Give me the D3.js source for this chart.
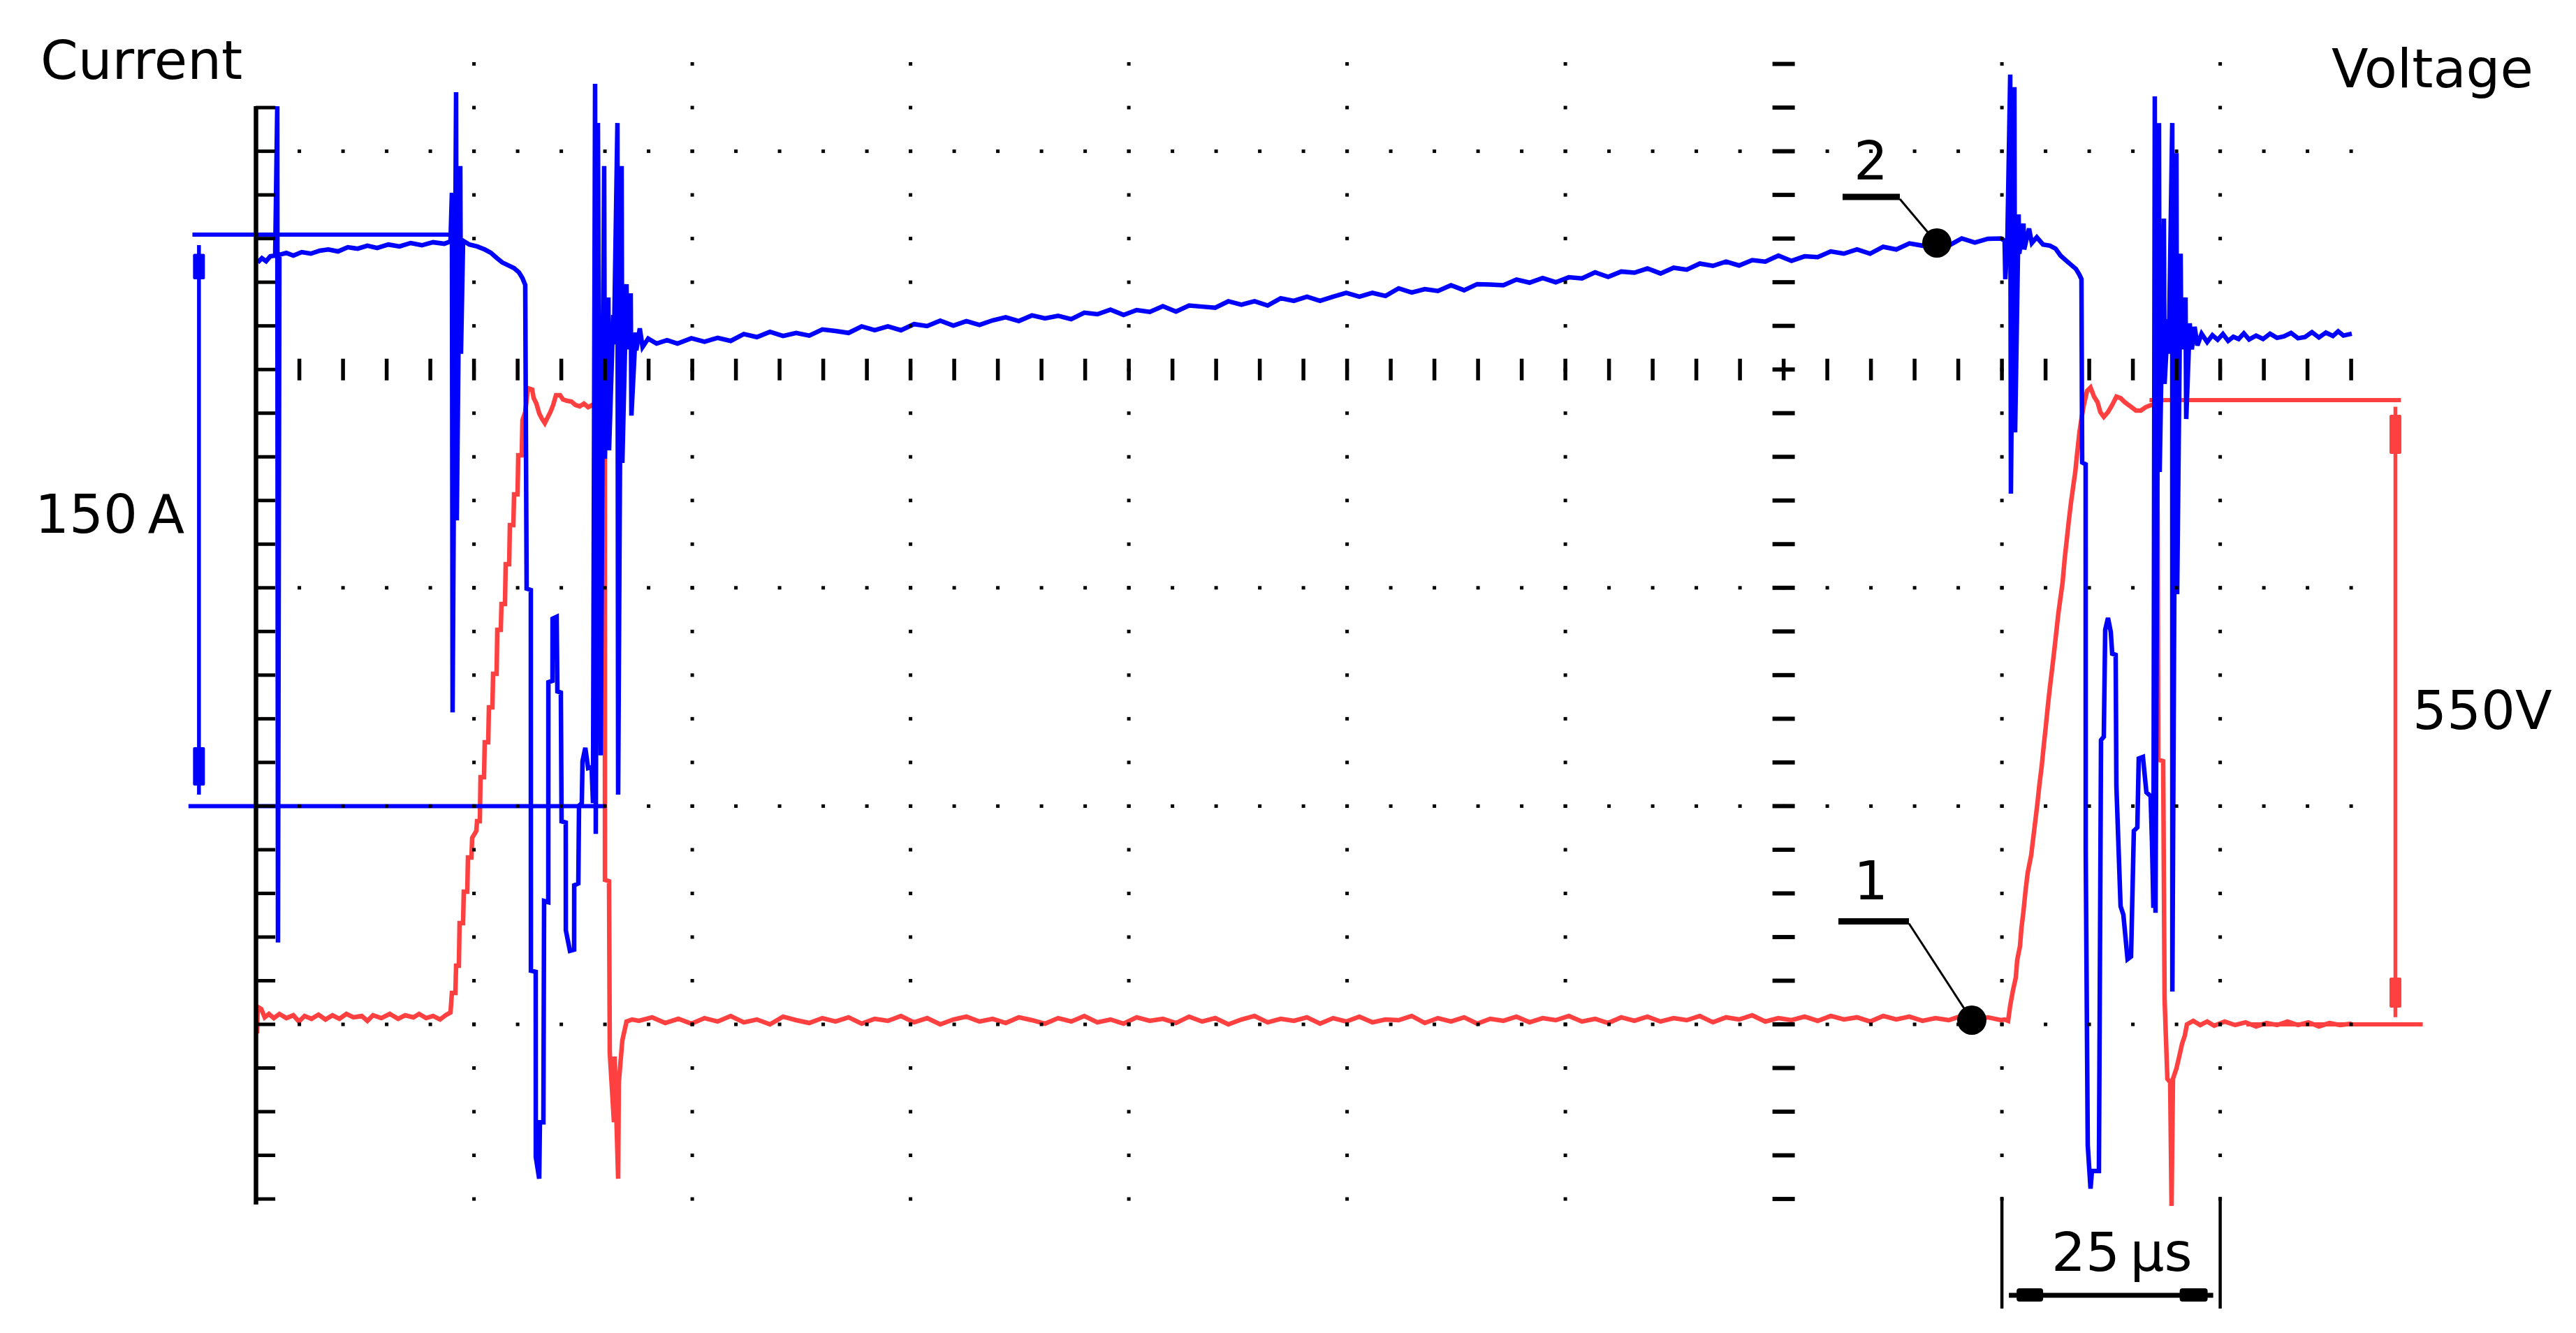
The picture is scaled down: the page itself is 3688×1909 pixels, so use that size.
<!DOCTYPE html>
<html><head><meta charset="utf-8">
<script src="https://cdn.jsdelivr.net/npm/d3@7"></script>
<style>
html,body{margin:0;padding:0;background:#fff;}
svg{display:block;}
text{font-family:"DejaVu Sans", Verdana, sans-serif; fill:#000; font-size:77px; word-spacing:-10px;}
</style></head><body>
<svg id="chart" width="3688" height="1909"></svg>
<script>
// ---------------- DATA (time in µs, current in A, voltage in V) ----------------
const currentStart = [[0.23,142.7],[0.71,143.8],[1.19,143.0],[1.67,144.3],[2.23,144.5],[2.47,183.7],[2.55,-35.8],[2.71,144.7],[3.51,145.2],[4.31,144.5],[5.27,145.4],[6.31,145.0],[7.35,145.8],[8.31,146.1],[9.43,145.6],[10.55,146.7],[11.67,146.3],[12.79,147.1],[13.91,146.5],[15.19,147.4],[16.47,146.9],[17.75,147.8],[19.03,147.2],[20.31,148.0],[21.59,147.6],[22.31,148.2]];
const currentTurnOff1 = [[22.47,161.0],[22.55,24.6],[22.95,187.4],[23.03,75.0],[23.43,168.0],[23.51,118.7],[23.75,148.4],[24.47,147.4],[25.35,146.9],[26.23,146.1],[26.95,145.2],[27.59,143.9],[28.23,142.7],[28.95,141.9],[29.59,141.2],[30.15,140.1],[30.55,138.6],[30.87,136.8],[31.03,57.1],[31.51,56.7],[31.52,-43.2],[32.07,-43.5],[32.08,-92.1],[32.47,-97.8],[32.55,-83.0],[32.95,-83.0],[33.03,-24.9],[33.51,-25.2],[33.52,32.5],[33.99,32.9],[34.0,49.2],[34.47,49.7],[34.55,30.1],[34.95,29.8],[35.03,-4.0],[35.51,-4.3],[35.52,-32.6],[35.99,-38.0],[36.47,-37.7],[36.48,-20.8],[36.95,-20.3],[37.03,0.1],[37.35,0.8],[37.43,11.8],[37.75,15.3],[38.07,10.0],[38.47,10.3],[38.63,0.8],[38.87,189.6],[38.95,-7.3],[39.19,179.3],[39.51,13.3],[39.91,168.0],[39.99,91.2],[40.39,133.5],[40.47,93.4],[40.95,128.9],[41.03,121.2],[41.43,179.3],[41.51,3.0],[41.91,168.0],[41.99,90.1],[42.47,137.0],[42.55,119.9],[42.95,134.6],[43.03,102.5],[43.51,124.3],[43.59,119.6],[43.99,125.4],[44.31,120.5],[44.95,122.7],[45.91,121.4],[47.11,122.3],[48.31,121.4]];
const currentRamp = [[49.9,122.8],[51.4,121.9],[52.9,122.9],[54.4,122.1],[55.9,123.9],[57.4,123.1],[58.9,124.5],[60.4,123.4],[61.9,124.2],[63.4,123.5],[64.9,125.1],[66.4,124.7],[67.9,124.2],[69.4,125.9],[70.9,124.9],[72.4,125.9],[73.9,124.9],[75.4,126.5],[76.9,126.0],[78.4,127.4],[79.9,126.1],[81.4,127.3],[82.9,126.3],[84.4,127.5],[85.9,128.3],[87.4,127.3],[88.9,128.8],[90.4,128.0],[91.9,128.7],[93.4,127.8],[94.9,129.5],[96.4,129.1],[97.9,130.3],[99.4,128.9],[100.9,130.2],[102.4,129.7],[103.9,131.2],[105.4,129.8],[106.9,131.4],[108.4,131.1],[109.9,130.8],[111.4,132.5],[112.9,131.6],[114.4,132.5],[115.9,131.4],[117.4,133.3],[118.9,132.6],[120.4,133.7],[121.9,132.6],[123.4,133.7],[124.9,134.7],[126.4,133.7],[127.9,134.7],[129.4,133.9],[130.9,135.9],[132.4,134.8],[133.9,135.7],[135.4,135.2],[136.9,136.7],[138.4,135.4],[139.9,137.0],[141.4,136.9],[142.9,136.7],[144.4,138.2],[145.9,137.4],[147.4,138.6],[148.9,137.5],[150.4,138.8],[151.9,138.5],[153.4,140.1],[154.9,138.9],[156.4,140.3],[157.9,140.0],[159.4,141.1],[160.9,139.8],[162.4,141.3],[163.9,140.8],[165.4,142.4],[166.9,141.8],[168.4,142.9],[169.9,141.9],[171.4,143.3],[172.9,142.9],[174.4,144.5],[175.9,143.1],[177.4,144.3],[178.9,144.1],[180.4,145.6],[181.9,145.0],[183.4,146.1],[184.9,145.0],[186.4,146.8],[187.9,146.1],[189.4,147.7],[190.9,147.1],[192.4,147.8],[193.9,147.1],[195.4,149.0],[196.9,147.9],[198.4,148.9],[199.9,149.0]];
const currentTurnOff2 = [[200.31,148.4],[200.39,138.3],[200.63,149.3],[200.95,192.0],[201.03,82.0],[201.43,188.7],[201.51,98.1],[201.91,155.3],[201.99,145.0],[202.47,152.9],[202.55,146.1],[203.11,151.6],[203.43,147.8],[203.99,149.3],[204.71,147.4],[205.51,147.1],[206.15,146.3],[206.71,144.5],[207.35,143.2],[207.91,142.1],[208.47,141.0],[208.87,139.5],[209.11,138.3],[209.19,90.2],[209.59,89.7],[209.6,-11.7],[209.83,-89.0],[210.15,-100.4],[210.31,-95.8],[211.11,-95.8],[211.35,17.3],[211.67,18.2],[211.83,46.3],[212.15,49.4],[212.47,45.7],[212.63,40.0],[213.03,39.7],[213.11,5.4],[213.59,-26.3],[213.91,-28.5],[214.39,-40.2],[214.79,-39.5],[215.11,-6.5],[215.51,-5.6],[215.67,12.5],[216.15,12.9],[216.55,3.6],[217.03,2.6],[217.19,-9.6],[217.35,-26.7],[217.51,186.3],[217.59,-28.0],[217.99,179.3],[218.07,87.7],[218.55,154.2],[218.63,110.8],[219.03,127.8],[219.11,118.7],[219.51,179.3],[219.52,-48.7],[219.99,171.4],[220.07,55.6],[220.47,145.0],[220.55,119.9],[221.03,133.5],[221.11,101.6],[221.51,126.7],[221.75,119.9],[222.07,125.8],[222.39,120.9],[222.87,124.0],[223.51,121.8],[224.11,123.6],[224.71,122.4],[225.31,123.9],[225.91,122.1],[226.51,123.2],[227.11,122.6],[227.71,124.1],[228.31,122.5],[229.11,123.5],[229.91,122.6],[230.71,124.0],[231.51,122.9],[232.31,123.3],[233.11,124.2],[233.91,122.8],[234.71,123.1],[235.51,124.4],[236.31,123.0],[237.11,124.3],[237.91,123.4],[238.51,124.6],[239.11,123.5],[240.07,124.0]];

const voltageStart = [[0.15,-8.0],[0.23,15.4],[0.63,13.5],[1.03,6.2],[1.51,9.2],[2.07,5.5],[2.71,9.2],[3.51,5.5],[4.31,8.0],[4.95,2.5],[5.59,7.4],[6.39,4.9],[7.19,8.6],[7.99,4.3],[8.79,8.0],[9.59,4.9],[10.39,9.2],[11.19,6.2],[12.15,7.4],[12.79,3.1],[13.43,8.0],[14.39,5.5],[15.35,9.2],[16.31,4.9],[17.11,8.0],[18.07,6.2],[18.71,9.2],[19.51,5.5],[20.31,7.4],[21.11,4.3],[21.75,8.0],[22.31,10.5]];
const voltageTurnOff1 = [[22.47,27.7],[22.87,27.7],[22.95,51.7],[23.27,51.7],[23.35,89.2],[23.75,89.2],[23.83,116.9],[24.23,116.9],[24.31,147.0],[24.71,147.0],[24.79,164.3],[25.27,170.4],[25.35,179.0],[25.67,179.0],[25.75,217.8],[26.15,217.8],[26.23,248.5],[26.63,248.5],[26.71,279.3],[27.11,279.3],[27.19,308.8],[27.59,308.8],[27.67,347.6],[28.07,347.6],[28.15,370.4],[28.55,370.4],[28.63,405.4],[29.03,405.4],[29.11,439.9],[29.51,439.9],[29.59,466.9],[29.99,466.9],[30.07,501.4],[30.47,501.4],[30.55,532.2],[30.87,539.5],[31.19,560.5],[31.67,559.2],[31.83,551.8],[32.15,546.9],[32.47,538.3],[32.79,533.4],[33.11,529.7],[33.43,534.6],[33.75,539.5],[34.07,545.7],[34.39,554.3],[34.87,554.3],[35.19,550.6],[35.67,549.4],[36.15,548.8],[36.63,545.7],[37.11,544.5],[37.59,546.9],[38.07,543.8],[38.55,545.7],[38.87,544.5],[39.35,546.9],[39.83,544.5],[39.99,539.5],[40.0,127.3],[40.47,126.1],[40.55,-24.6],[41.03,-86.1],[41.11,-28.3],[41.51,-136.0],[41.59,-51.1],[41.99,-14.2],[42.47,2.5],[43.11,4.3]];
const voltageBaseline = [[43.9,3.1],[45.4,6.2],[46.9,1.2],[48.4,4.9],[49.9,0.6],[51.4,5.5],[52.9,2.5],[54.4,7.4],[55.9,1.8],[57.4,4.3],[58.9,0.0],[60.4,6.8],[61.9,3.7],[63.4,1.2],[64.9,5.5],[66.4,2.5],[67.9,6.2],[69.4,0.6],[70.9,4.9],[72.4,3.1],[73.9,7.4],[75.4,1.8],[76.9,5.5],[78.4,0.0],[79.9,4.3],[81.4,6.8],[82.9,2.5],[84.4,4.9],[85.9,1.2],[87.4,6.2],[88.9,3.7],[90.4,0.6],[91.9,5.5],[93.4,2.5],[94.9,7.4],[96.4,1.8],[97.9,4.3],[99.4,0.6],[100.9,6.2],[102.4,3.1],[103.9,4.9],[105.4,1.2],[106.9,6.8],[108.4,2.5],[109.9,5.5],[111.4,0.0],[112.9,4.3],[114.4,7.4],[115.9,1.8],[117.4,4.9],[118.9,3.1],[120.4,6.2],[121.9,0.6],[123.4,5.5],[124.9,2.5],[126.4,6.8],[127.9,1.8],[129.4,4.3],[130.9,3.7],[132.4,7.4],[133.9,1.2],[135.4,5.5],[136.9,2.5],[138.4,6.2],[139.9,0.6],[141.4,4.9],[142.9,3.1],[144.4,6.8],[145.9,1.8],[147.4,5.5],[148.9,3.7],[150.4,7.4],[151.9,2.5],[153.4,4.9],[154.9,1.2],[156.4,6.2],[157.9,3.1],[159.4,6.8],[160.9,2.5],[162.4,5.5],[163.9,3.7],[165.4,7.4],[166.9,1.8],[168.4,6.2],[169.9,4.3],[171.4,8.0],[172.9,2.5],[174.4,5.5],[175.9,3.7],[177.4,6.8],[178.9,3.1],[180.4,7.4],[181.9,4.3],[183.4,6.2],[184.9,2.5],[186.4,7.4],[187.9,4.3],[189.4,6.8],[190.9,3.1],[192.4,5.5],[193.9,3.7],[195.4,7.4],[196.9,4.9],[198.4,6.2],[199.9,3.7],[200.31,4.3]];
const voltageTurnOff2 = [[200.71,3.1],[200.95,16.6],[201.27,30.1],[201.59,41.2],[201.75,56.6],[202.07,68.9],[202.23,84.3],[202.47,99.7],[202.71,118.1],[202.95,133.5],[203.35,148.9],[203.59,164.3],[203.83,179.6],[204.07,195.0],[204.31,212.2],[204.55,227.0],[204.79,245.5],[205.03,262.7],[205.27,281.2],[205.51,297.8],[205.75,313.1],[205.99,329.1],[206.23,345.7],[206.47,362.4],[206.71,375.9],[206.95,389.4],[207.19,410.3],[207.43,427.0],[207.67,444.2],[207.91,459.6],[208.15,473.1],[208.39,486.0],[208.63,503.9],[208.87,521.1],[209.11,533.4],[209.35,544.5],[209.75,558.0],[210.15,561.1],[210.55,553.1],[210.95,548.2],[211.27,539.5],[211.67,535.2],[212.15,539.5],[212.63,545.7],[213.11,553.1],[213.59,551.8],[214.07,548.2],[214.71,544.5],[215.35,540.8],[215.91,540.8],[216.47,543.8],[217.11,545.7],[217.67,545.7],[217.83,447.3],[217.91,233.2],[218.47,231.9],[218.63,22.8],[218.95,-48.0],[219.27,-51.1],[219.43,-160.0],[219.59,-48.0],[219.99,-38.8],[220.31,-28.3],[220.63,-17.2],[220.95,-9.8],[221.19,0],[221.91,3.1],[222.71,-0.6],[223.51,2.5],[224.31,-1.2],[225.51,2.5],[226.71,-0.6],[227.91,1.8],[229.11,-1.8],[230.31,1.2],[231.51,-0.6],[232.71,2.5],[233.91,-0.6],[235.11,1.8],[236.31,-1.8],[237.51,1.2],[238.71,-0.6],[240.07,0.6]];

// reference levels (labelled spans) and their extents in µs
const currentRefLevels = [150, 0];
const currentRefSpans = [[-7.25, 22.2], [-7.7, 40.1]];
const currentArrowTime = -6.5;
const voltageRefLevels = [550, 0];
const voltageRefSpans = [[216.9, 245.7], [228.0, 248.2]];
const voltageArrowTime = 245.07;
// time scale marker (one division)
const timeMarker = [200, 225];
// numbered markers
const markerLabels = ["2", "1"];
const markerTimes = [192.55, 196.55];
const markerValues = [147.8, 3.7];
const markerSeries = ["current", "voltage"];
// graticule
const gridTimes = [25, 50, 75, 100, 125, 150, 200, 225];
const centerTime = 175;
const gridDivs = [0, 1, 2, 4];
const centerDiv = 3;
const minorTimes = d3.range(1, 49).map(i => i * 5);       // 5 … 240 µs
const minorDivs = d3.range(-4, 23).map(i => i / 5);       // -0.8 … 4.4 div
const axisDivs = d3.range(-4, 22).map(i => i / 5);        // -0.8 … 4.2 div

// ---------------- SCALES ----------------
const x = d3.scaleLinear().domain([0, 250]).range([366.1, 3491.1]);
const yDiv = d3.scaleLinear().domain([0, 4]).range([1467, 216.6]);
const yI = d3.scaleLinear().domain([0, 150]).range([1154.4, 336]);
const yV = d3.scaleLinear().domain([0, 550]).range([1467, 573]);

const BLUE = "#0000ff", RED = "#ff4040", BLACK = "#000";
const svg = d3.select("#chart");
svg.append("rect").attr("width", 3688).attr("height", 1909).attr("fill", "#fff");

const gRed = svg.append("g");
const gBlue = svg.append("g");
const gGrid = svg.append("g");
const gAnno = svg.append("g");

function refLines(g, levels, spans, yScale, color) {
  levels.forEach((lv, i) => {
    g.append("line")
      .attr("x1", x(spans[i][0])).attr("x2", x(spans[i][1]))
      .attr("y1", yScale(lv)).attr("y2", yScale(lv))
      .attr("stroke", color).attr("stroke-width", 6);
  });
}
function rangeArrow(g, t, yTop, yBot, color, topBlock, botBlock) {
  const cx = x(t);
  g.append("line").attr("x1", cx).attr("x2", cx).attr("y1", yTop).attr("y2", yBot)
    .attr("stroke", color).attr("stroke-width", 5.5);
  [topBlock, botBlock].forEach(b => {
    g.append("rect").attr("x", cx - 8.5).attr("width", 17)
      .attr("y", b[0]).attr("height", b[1] - b[0]).attr("fill", color).attr("rx", 2);
  });
}

// voltage (red) layer
refLines(gRed, voltageRefLevels, voltageRefSpans, yV, RED);
const vTop = yV(voltageRefLevels[0]), vBot = yV(voltageRefLevels[1]);
rangeArrow(gRed, voltageArrowTime, vTop + 9.6, vBot - 10.3, RED, [vTop + 21, vTop + 77], [vBot - 67, vBot - 24]);
const voltageData = [].concat(voltageStart, voltageTurnOff1, voltageBaseline, voltageTurnOff2);
gRed.append("path").datum(voltageData)
  .attr("d", d3.line().x(d => x(d[0])).y(d => yV(d[1])))
  .attr("fill", "none").attr("stroke", RED).attr("stroke-width", 6.5);

// current (blue) layer
refLines(gBlue, currentRefLevels, currentRefSpans, yI, BLUE);
const iTop = yI(currentRefLevels[0]), iBot = yI(currentRefLevels[1]);
rangeArrow(gBlue, currentArrowTime, iTop + 15, iBot - 16.4, BLUE, [iTop + 27.6, iTop + 64], [iBot - 84.4, iBot - 29.4]);
const currentData = [].concat(currentStart, currentTurnOff1, currentRamp, currentTurnOff2);
gBlue.append("path").datum(currentData)
  .attr("d", d3.line().x(d => x(d[0])).y(d => yI(d[1])))
  .attr("fill", "none").attr("stroke", BLUE).attr("stroke-width", 6.5);

// graticule (drawn over the traces, as on the scope)
function dot(cx, cy, w, h) {
  gGrid.append("rect").attr("x", cx - w / 2).attr("y", cy - h / 2)
    .attr("width", w).attr("height", h).attr("fill", BLACK);
}
gridDivs.forEach(dv => minorTimes.forEach(t => dot(x(t), yDiv(dv), 5, 5)));
gridTimes.forEach(t => minorDivs.forEach(dv => dot(x(t), yDiv(dv), 5, 5)));
minorTimes.forEach(t => dot(x(t), yDiv(centerDiv), 5.5, 31));
minorDivs.forEach(dv => dot(x(centerTime), yDiv(dv), 32, 6));

// left axis with minor ticks
const axisX = x(0);
gGrid.append("line").attr("x1", axisX + 0.4).attr("x2", axisX + 0.4)
  .attr("y1", yDiv(axisDivs[axisDivs.length - 1]) - 2).attr("y2", yDiv(axisDivs[0]) + 8)
  .attr("stroke", BLACK).attr("stroke-width", 6.5);
axisDivs.forEach(dv => {
  gGrid.append("line").attr("x1", axisX).attr("x2", axisX + 28)
    .attr("y1", yDiv(dv)).attr("y2", yDiv(dv)).attr("stroke", BLACK).attr("stroke-width", 5);
});

// numbered markers with leaders
const markerGeom = [
  {bar: [-135, -53], barY: -66, tx: -119, ty: -91},
  {bar: [-191, -90], barY: -141.5, tx: -169, ty: -173}
];
markerLabels.forEach((lab, i) => {
  const cx = x(markerTimes[i]);
  const cy = markerSeries[i] === "current" ? yI(markerValues[i]) : yV(markerValues[i]);
  const gm = markerGeom[i];
  gAnno.append("line").attr("x1", cx + gm.bar[0]).attr("x2", cx + gm.bar[1])
    .attr("y1", cy + gm.barY).attr("y2", cy + gm.barY).attr("stroke", BLACK).attr("stroke-width", 9);
  gAnno.append("line").attr("x1", cx + gm.bar[1]).attr("y1", cy + gm.barY + 3)
    .attr("x2", cx).attr("y2", cy).attr("stroke", BLACK).attr("stroke-width", 3);
  gAnno.append("circle").attr("cx", cx).attr("cy", cy).attr("r", 21).attr("fill", BLACK);
  gAnno.append("text").attr("x", cx + gm.tx).attr("y", cy + gm.ty).text(lab);
});

// 25 µs division marker
const mx0 = x(timeMarker[0]), mx1 = x(timeMarker[1]);
[mx0, mx1].forEach(mx => gAnno.append("line").attr("x1", mx).attr("x2", mx)
  .attr("y1", 1714).attr("y2", 1874).attr("stroke", BLACK).attr("stroke-width", 4.5));
gAnno.append("line").attr("x1", mx0 + 10).attr("x2", mx1 - 10).attr("y1", 1855).attr("y2", 1855)
  .attr("stroke", BLACK).attr("stroke-width", 7);
gAnno.append("rect").attr("x", mx0 + 21).attr("y", 1845).attr("width", 38).attr("height", 19).attr("rx", 4).attr("fill", BLACK);
gAnno.append("rect").attr("x", mx1 - 58).attr("y", 1845).attr("width", 40).attr("height", 19).attr("rx", 4).attr("fill", BLACK);

// texts
gAnno.append("text").attr("x", 58).attr("y", 113).text("Current");
gAnno.append("text").attr("x", 3338).attr("y", 125).text("Voltage");
gAnno.append("text").attr("x", 50).attr("y", 763).text("150 A");
gAnno.append("text").attr("x", 3454).attr("y", 1044).text("550V");
gAnno.append("text").attr("x", 2937).attr("y", 1820).text("25 µs");
</script>
</body></html>
